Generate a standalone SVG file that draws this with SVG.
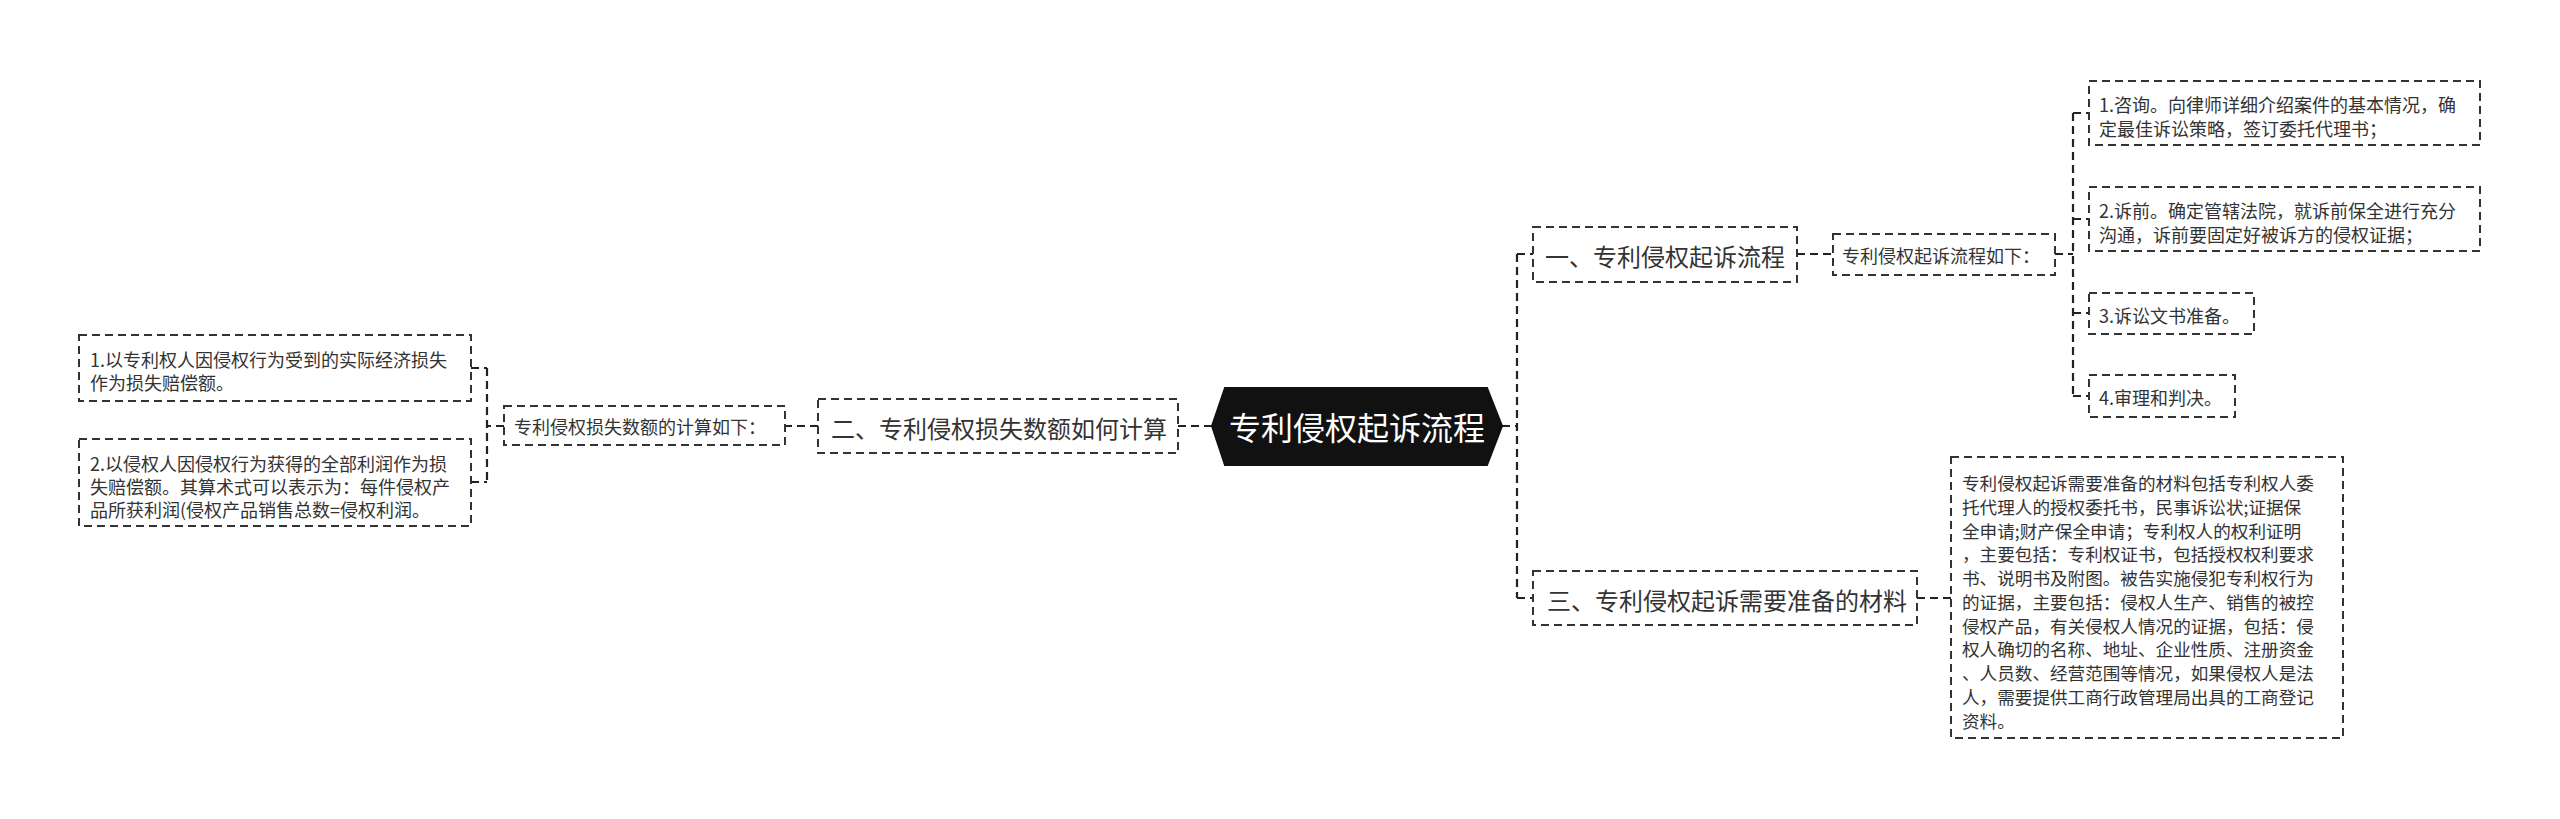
<svg xmlns="http://www.w3.org/2000/svg" width="2560" height="819" viewBox="0 0 2560 819">
<style>
.box{fill:#fff;stroke:#333;stroke-width:2;stroke-dasharray:8 5}
.con{fill:none;stroke:#222;stroke-width:2.2;stroke-dasharray:8 5}
.t{font-family:"Noto Sans CJK SC","Noto Sans",sans-serif;fill:#333;dominant-baseline:central}
.s{font-size:18px}
.m{font-size:24px}
.b{font-size:17.6px}
</style>
<rect width="2560" height="819" fill="#fff"/>
<g id="connectors">
<path class="con" d="M1212 426 H1178"/>
<path class="con" d="M818 426 H785"/>
<path class="con" d="M504 426 H487 M487 368 V482 M471 368 H487 M471 482 H487"/>
<path class="con" d="M1502 426 H1517 M1517 254 V598 M1517 254 H1533 M1517 598 H1533"/>
<path class="con" d="M1797 254 H1833"/>
<path class="con" d="M2055 254 H2073 M2073 113 V396 M2073 113 H2089 M2073 219 H2089 M2073 313 H2089 M2073 396 H2089"/>
<path class="con" d="M1917 598 H1951"/>
</g>
<g id="root">
<polygon points="1212,426 1225,388 1487,388 1502,426 1487,465 1225,465" fill="#111" stroke="#111" stroke-width="2"/>
<text x="1357" y="426" text-anchor="middle" font-family="Noto Sans CJK SC,sans-serif" font-size="32" fill="#fff" dominant-baseline="central">专利侵权起诉流程</text>
</g>
<g id="n1">
<rect class="box" x="1533" y="227" width="264" height="55"/>
<text class="t m" x="1545" y="255">一、专利侵权起诉流程</text>
</g>
<g id="n1a">
<rect class="box" x="1833" y="234" width="222" height="41"/>
<text class="t s" x="1842" y="255">专利侵权起诉流程如下：</text>
</g>
<g id="n1a1">
<rect class="box" x="2089" y="81" width="391" height="64"/>
<text class="t s" x="2099" y="104">1.咨询。向律师详细介绍案件的基本情况，确</text>
<text class="t s" x="2099" y="128">定最佳诉讼策略，签订委托代理书；</text>
</g>
<g id="n1a2">
<rect class="box" x="2089" y="187" width="391" height="64"/>
<text class="t s" x="2099" y="210">2.诉前。确定管辖法院，就诉前保全进行充分</text>
<text class="t s" x="2099" y="234">沟通，诉前要固定好被诉方的侵权证据；</text>
</g>
<g id="n1a3">
<rect class="box" x="2089" y="293" width="165" height="41"/>
<text class="t s" x="2099" y="315">3.诉讼文书准备。</text>
</g>
<g id="n1a4">
<rect class="box" x="2089" y="375" width="146" height="42"/>
<text class="t s" x="2099" y="397">4.审理和判决。</text>
</g>
<g id="n3">
<rect class="box" x="1533" y="571" width="384" height="54"/>
<text class="t m" x="1547" y="599">三、专利侵权起诉需要准备的材料</text>
</g>
<g id="n3a">
<rect class="box" x="1951" y="457" width="392" height="281"/>
<text class="t b" x="1962" y="482">专利侵权起诉需要准备的材料包括专利权人委</text>
<text class="t b" x="1962" y="506">托代理人的授权委托书，民事诉讼状;证据保</text>
<text class="t b" x="1962" y="530">全申请;财产保全申请；专利权人的权利证明</text>
<text class="t b" x="1962" y="553">，主要包括：专利权证书，包括授权权利要求</text>
<text class="t b" x="1962" y="577">书、说明书及附图。被告实施侵犯专利权行为</text>
<text class="t b" x="1962" y="601">的证据，主要包括：侵权人生产、销售的被控</text>
<text class="t b" x="1962" y="625">侵权产品，有关侵权人情况的证据，包括：侵</text>
<text class="t b" x="1962" y="648">权人确切的名称、地址、企业性质、注册资金</text>
<text class="t b" x="1962" y="672">、人员数、经营范围等情况，如果侵权人是法</text>
<text class="t b" x="1962" y="696">人，需要提供工商行政管理局出具的工商登记</text>
<text class="t b" x="1962" y="720">资料。</text>
</g>
<g id="n2">
<rect class="box" x="818" y="399" width="360" height="54"/>
<text class="t m" x="831" y="427">二、专利侵权损失数额如何计算</text>
</g>
<g id="n2a">
<rect class="box" x="504" y="406" width="281" height="39"/>
<text class="t s" x="514" y="426">专利侵权损失数额的计算如下：</text>
</g>
<g id="n2a1">
<rect class="box" x="79" y="335" width="392" height="66"/>
<text class="t s" x="90" y="359">1.以专利权人因侵权行为受到的实际经济损失</text>
<text class="t s" x="90" y="382">作为损失赔偿额。</text>
</g>
<g id="n2a2">
<rect class="box" x="79" y="439" width="392" height="87"/>
<text class="t s" x="90" y="463">2.以侵权人因侵权行为获得的全部利润作为损</text>
<text class="t s" x="90" y="486">失赔偿额。其算术式可以表示为：每件侵权产</text>
<text class="t s" x="90" y="509">品所获利润(侵权产品销售总数=侵权利润。</text>
</g>
</svg>
